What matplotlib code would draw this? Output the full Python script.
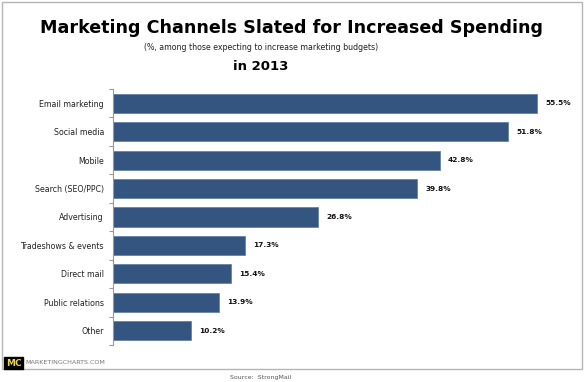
import matplotlib
matplotlib.use("Agg")
import matplotlib.pyplot as plt
from matplotlib.patches import Rectangle

categories = ["Email marketing", "Social media", "Mobile", "Search (SEO/PPC)", "Advertising",
              "Tradeshows & events", "Direct mail", "Public relations", "Other"]
values = [55.5, 51.8, 42.8, 39.8, 26.8, 17.3, 15.4, 13.9, 10.2]
value_labels = ["55.5%", "51.8%", "42.8%", "39.8%", "26.8%", "17.3%", "15.4%", "13.9%", "10.2%"]

W, H = 585, 382
fig = plt.figure(figsize=(W/100, H/100), dpi=100)
fig.patch.set_facecolor("white")

# outer frame
fig.patches.append(Rectangle((2/W, 1-369/H), 580/W, 367/H, transform=fig.transFigure,
                             fill=False, edgecolor="#b5b5b5", linewidth=1.0))

ax = fig.add_axes([113/W, 1-345/H, (571-113)/W, (345-89)/H])
n = len(categories)
ypos = list(range(n))
ax.barh(ypos, values, height=0.67, color="#34557f", edgecolor="#5a7aa3", linewidth=0.5)
ax.set_ylim(n-0.5, -0.5)
ax.set_xlim(0, 60)
ax.set_yticks(ypos)
ax.set_yticklabels(categories, fontsize=5.7, color="#222222")
ax.tick_params(axis="y", length=0, pad=6.5)
ax.set_yticks([i - 0.5 for i in range(n+1)], minor=True)
ax.tick_params(axis="y", which="minor", length=3, color="#999999", width=0.8)
ax.set_xticks([])
for s in ["top", "right", "bottom"]:
    ax.spines[s].set_visible(False)
ax.spines["left"].set_color("#999999")
ax.spines["left"].set_linewidth(0.8)
for y, v, lab in zip(ypos, values, value_labels):
    ax.text(v + 1.1, y, lab, va="center", ha="left", fontsize=5.3, fontweight="bold", color="#111111")

fig.text(292/W, 1-28/H, "Marketing Channels Slated for Increased Spending", ha="center", va="center",
         fontsize=12.6, fontweight="bold", color="black")
fig.text(261/W, 1-47/H, "(%, among those expecting to increase marketing budgets)", ha="center", va="center",
         fontsize=5.7, color="#222222")
fig.text(261/W, 1-66/H, "in 2013", ha="center", va="center", fontsize=9.5, fontweight="bold", color="black")

# logo
fig.text(13.5/W, 1-363/H, "MC", ha="center", va="center", fontsize=6.5, fontweight="bold", color="#e8d44d",
         bbox=dict(boxstyle="square,pad=0.2", facecolor="black", edgecolor="black"))
fig.text(25/W, 1-363/H, "MARKETINGCHARTS.COM", ha="left", va="center", fontsize=4.6, color="#777777")
fig.text(261/W, 1-377/H, "Source:  StrongMail", ha="center", va="center", fontsize=4.5, color="#555555")

fig.savefig("out.png", dpi=100, facecolor="white")
